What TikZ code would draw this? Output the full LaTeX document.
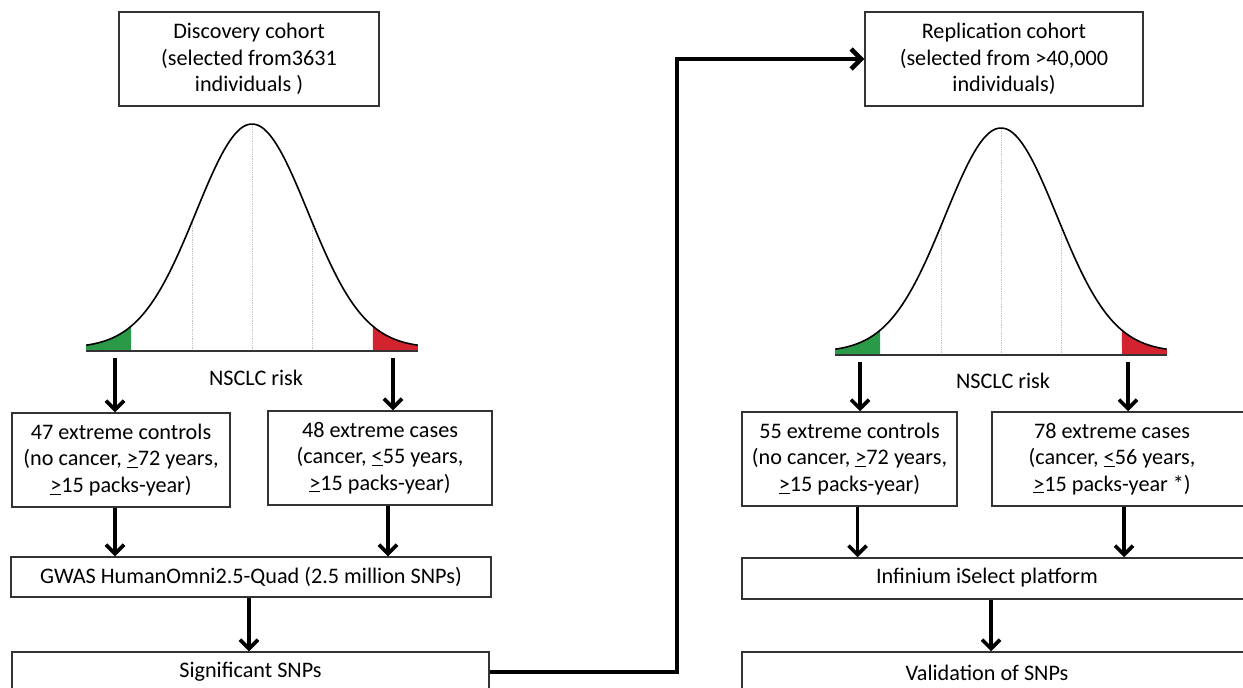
\documentclass[tikz,border=0pt]{standalone}
\usepackage{fontspec}
\setmainfont{Carlito}
\usetikzlibrary{arrows.meta}
\definecolor{tailgreen}{HTML}{2A9A48}
\definecolor{tailred}{HTML}{D2232F}
\definecolor{boxline}{HTML}{333333}
\definecolor{gridgrey}{HTML}{C4C4C4}
\tikzset{
  box/.style={draw=boxline, line width=1.5pt, fill=white, align=center, inner sep=0pt,
    font=\fontsize{22.2}{26.5}\selectfont},
  txt/.style={align=center, inner sep=0pt, font=\fontsize{22.2}{26.5}\selectfont},
  arr/.style={line width=3.6pt, -{Straight Barb[length=9pt,width=18pt]}},
  link/.style={line width=4.6pt, line join=miter, -{Straight Barb[length=10pt,width=20pt]}}
}

\begin{document}
\begin{tikzpicture}[x=1pt, y=-1pt]
  \useasboundingbox (0,0) rectangle (1243,688);
  \clip (0,0) rectangle (1243,688);
  \fill[white] (0,0) rectangle (1243,688);

  % the two risk curves
  \foreach \cx/\by in {252/351, 1001/355} {
    \fill[tailgreen] plot[domain=-2.96:-2.16, samples=20] ({\cx+56*\x},{\by-3-224*exp(-\x*\x/2)})
      -- (\cx-121,\by) -- (\cx-166,\by) -- cycle;
    \fill[tailred] plot[domain=2.16:2.96, samples=20] ({\cx+56*\x},{\by-3-224*exp(-\x*\x/2)})
      -- (\cx+166,\by) -- (\cx+121,\by) -- cycle;
    \draw[gridgrey, densely dotted, line width=0.8pt] (\cx-60,\by) -- ++(0,-128)
      (\cx,\by) -- ++(0,-227) (\cx+60,\by) -- ++(0,-128);
    \draw[line width=1.6pt] plot[domain=-2.96:2.96, samples=90, smooth] ({\cx+56*\x},{\by-3-224*exp(-\x*\x/2)});
    \draw[boxline, line width=2.2pt] (\cx-166,\by) -- (\cx+166,\by);
  }

  % discovery side
  \node[box, minimum width=260, minimum height=94] (disc) at (249,59) {Discovery cohort\\(selected from3631\\individuals )};
  \node[txt] (drisk) at (256,378) {NSCLC risk};
  \node[box, minimum width=218, minimum height=94] (dctrl) at (121,460) {47 extreme controls\\(no cancer, \underline{>}72 years,\\\underline{>}15 packs-year)};
  \node[box, minimum width=224, minimum height=94] (dcase) at (380,458) {48 extreme cases\\(cancer, \underline{<}55 years,\\\underline{>}15 packs-year)};
  \node[box, minimum width=480, minimum height=40] (dgwas) at (251,577) {GWAS HumanOmni2.5-Quad (2.5 million SNPs)};
  \node[box, minimum width=477, minimum height=40] (dsig) at (250.5,672) {Significant SNPs};

  % replication side
  \node[box, minimum width=278, minimum height=94] (repl) at (1004,59) {Replication cohort\\(selected from >40,000\\individuals)};
  \node[txt] (rrisk) at (1003,381) {NSCLC risk};
  \node[box, minimum width=215, minimum height=94] (rctrl) at (849.5,459) {55 extreme controls\\(no cancer, \underline{>}72 years,\\\underline{>}15 packs-year)};
  \node[box, minimum width=268, minimum height=94] (rcase) at (1126,459) {};
  \node[txt] (rcasetxt) at (1112,459) {78 extreme cases\\(cancer, \underline{<}56 years,\\\underline{>}15 packs-year *)};
  \node[box, minimum width=518, minimum height=41] (rinf) at (1001,578.5) {};
  \node[txt] (rinftxt) at (987,578) {Infinium iSelect platform};
  \node[box, minimum width=518, minimum height=40] (rval) at (1001,672) {};
  \node[txt] (rvaltxt) at (987,673) {Validation of SNPs};

  % arrow tails under the curves
  \coordinate (dlo) at (115,358);
  \coordinate (dhi) at (393,358);
  \coordinate (rlo) at (860,362);
  \coordinate (rhi) at (1128,362);
  \coordinate (bend) at (677,59);

  \draw[arr] (dlo) -- (dlo |- dctrl.north);
  \draw[arr] (dhi) -- (dhi |- dcase.north);
  \draw[arr] ([xshift=-6]dctrl.south) -- ([xshift=-6]dctrl.south |- dgwas.north);
  \draw[arr] ([xshift=8]dcase.south) -- ([xshift=8]dcase.south |- dgwas.north);
  \draw[arr] ([xshift=-2]dgwas.south) -- ([xshift=-2]dgwas.south |- dsig.north);

  \draw[arr] (rlo) -- (rlo |- rctrl.north);
  \draw[arr] (rhi) -- (rhi |- rcase.north);
  \draw[arr] ([xshift=8]rctrl.south) -- ([xshift=8]rctrl.south |- rinf.north);
  \draw[arr] (rhi |- rcase.south) ++(-4,0) coordinate (rcs) -- (rcs |- rinf.north);
  \draw[arr] ([xshift=-10]rinf.south) -- ([xshift=-10]rinf.south |- rval.north);

  \draw[link] (dsig.east) -| (bend) -- (repl.west);
\end{tikzpicture}
\end{document}
